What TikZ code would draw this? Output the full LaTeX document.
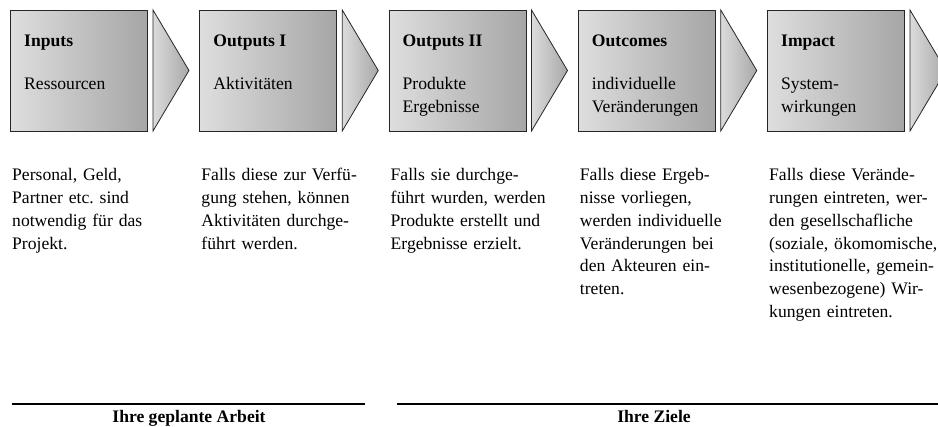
\documentclass[tikz,border=0pt]{standalone}
\usepackage{fontspec}
\setmainfont{Liberation Serif}
\frenchspacing
\definecolor{boxL}{gray}{0.87}
\definecolor{boxR}{gray}{0.65}
\definecolor{arrL}{gray}{0.86}
\definecolor{arrR}{gray}{0.66}
\begin{document}
\begin{tikzpicture}[x=1pt,y=-1pt,
  font=\fontsize{17.6}{22.7}\selectfont,
  stagebox/.style={draw=black!85, line width=0.8pt, left color=boxL, right color=boxR,
    minimum width=137pt, minimum height=121pt, inner sep=0pt, anchor=north west},
  chevron/.style={draw=black!85, line width=0.8pt, left color=arrL, right color=arrR},
  title/.style={font=\fontsize{17.6}{22.7}\selectfont\bfseries, anchor=base west, inner sep=0pt},
  sub/.style={anchor=base west, inner sep=0pt, text width=130pt, align=left},
  para/.style={anchor=base west, inner sep=0pt, text width=185pt, align=left},
  rule/.style={line width=1.3pt},
  foot/.style={font=\fontsize{17.6}{22.7}\selectfont\bfseries, anchor=base, inner sep=0pt}]
\useasboundingbox (0,0) rectangle (938,427);
\clip (0,0) rectangle (938,427);
\foreach \i/\t/\s/\p in {
  1/Inputs/Ressourcen/{Personal, Geld,\\Partner etc. sind\\notwendig für das\\Projekt.},
  2/Outputs I/Aktivitäten/{Falls diese zur Verfü-\\gung stehen, können\\Aktivitäten durchge-\\führt werden.},
  3/Outputs II/{Produkte\\Ergebnisse}/{Falls sie durchge-\\führt wurden, werden\\Produkte erstellt und\\Ergebnisse erzielt.},
  4/Outcomes/{individuelle\\Veränderungen}/{Falls diese Ergeb-\\nisse vorliegen,\\werden individuelle\\Veränderungen bei\\den Akteuren ein-\\treten.},
  5/Impact/{System-\\wirkungen}/{Falls diese Verände-\\rungen eintreten, wer-\\den gesellschafliche\\(soziale, ökomomische,\\institutionelle, gemein-\\wesenbezogene) Wir-\\kungen eintreten.}} {
  \pgfmathsetmacro{\bx}{10+189.25*(\i-1)}
  \node[stagebox] (b\i) at (\bx,10) {};
  \path[chevron] (\bx+143,10) -- (\bx+179,70.5) -- (\bx+143,131) -- cycle;
  \node[title] (t\i) at (\bx+14,47) {\t};
  \node[sub] (s\i) at (\bx+14,90) {\s};
  \node[para] (p\i) at (\bx+2,181) {\p};
}
\coordinate (r1a) at (12,404);
\coordinate (r1b) at (365,404);
\coordinate (r2a) at (397,404);
\coordinate (r2b) at (938,404);
\draw[rule] (r1a) -- (r1b);
\draw[rule] (r2a) -- (r2b);
\node[foot] (f1) at (189,423) {Ihre geplante Arbeit};
\node[foot] (f2) at (654,423) {Ihre Ziele};
\end{tikzpicture}
\end{document}
